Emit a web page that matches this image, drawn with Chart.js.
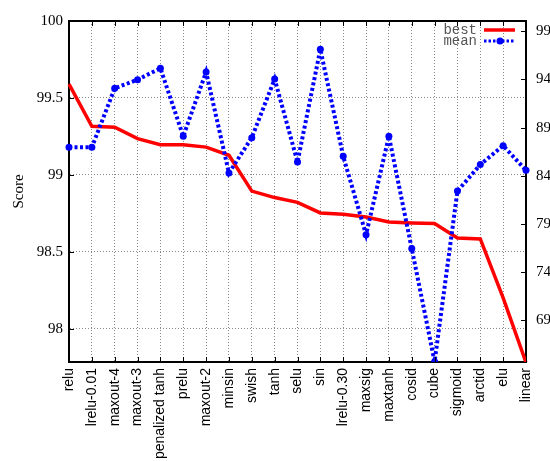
<!DOCTYPE html>
<html>
<head>
<meta charset="utf-8">
<script src="https://cdn.jsdelivr.net/npm/chart.js@4/dist/chart.umd.min.js"></script>
<style>
  html, body { margin: 0; padding: 0; background: #fff; }
  #wrap { width: 550px; height: 461px; position: relative; }
</style>
</head>
<body>
<div id="wrap"><canvas id="c"></canvas></div>
<script>
// Activation functions, sorted by best score
const activations = [
  'relu', 'lrelu-0.01', 'maxout-4', 'maxout-3', 'penalized tanh', 'prelu',
  'maxout-2', 'minsin', 'swish', 'tanh', 'selu', 'sin', 'lrelu-0.30',
  'maxsig', 'maxtanh', 'cosid', 'cube', 'sigmoid', 'arctid', 'elu', 'linear'
];

// Best score per activation (left axis)
const bestScores = [
  99.59, 99.315, 99.31, 99.235, 99.196, 99.195, 99.18, 99.127, 98.894, 98.852,
  98.821, 98.752, 98.743, 98.726, 98.693, 98.687, 98.683, 98.589, 98.583, 98.2, 97.78
];

// Mean score per activation (right axis)
const meanScores = [
  86.96, 86.96, 93.08, 93.98, 95.16, 88.1, 94.78, 84.29, 87.96, 94.05,
  85.43, 97.13, 86.02, 77.89, 88.1, 76.44, 64.7, 82.42, 85.16, 87.13, 84.57
];

// Tick values for both value axes
const leftTicks = [98, 98.5, 99, 99.5, 100];
const rightTicks = [69, 74, 79, 84, 89, 94, 99];

const serif = '"Liberation Serif", "DejaVu Serif", serif';
const sans = '"Liberation Sans", Arial, sans-serif';
const mono = '"Liberation Mono", "DejaVu Sans Mono", monospace';

// Frame: top border, inward tick marks and the key in the upper right
const framePlugin = {
  id: 'frame',
  afterDraw(chart) {
    const { ctx, chartArea: a, scales } = chart;
    ctx.save();
    ctx.strokeStyle = '#000';
    ctx.lineWidth = 2;
    ctx.beginPath();
    ctx.moveTo(a.left - 1, a.top);
    ctx.lineTo(a.right + 1, a.top);
    ctx.stroke();

    ctx.lineWidth = 1;
    ctx.beginPath();
    activations.forEach((_, i) => {
      const x = Math.round(scales.x.getPixelForValue(i)) + 0.5;
      ctx.moveTo(x, a.top); ctx.lineTo(x, a.top + 5);
      ctx.moveTo(x, a.bottom); ctx.lineTo(x, a.bottom - 5);
    });
    leftTicks.forEach(v => {
      const y = Math.round(scales.y.getPixelForValue(v)) + 0.5;
      ctx.moveTo(a.left, y); ctx.lineTo(a.left + 5, y);
    });
    rightTicks.forEach(v => {
      const y = Math.round(scales.y2.getPixelForValue(v)) + 0.5;
      ctx.moveTo(a.right, y); ctx.lineTo(a.right - 5, y);
    });
    ctx.stroke();

    // key
    ctx.font = '14px ' + mono;
    ctx.fillStyle = '#555';
    ctx.textAlign = 'right';
    ctx.textBaseline = 'middle';
    ctx.fillText('best', 477, 30);
    ctx.fillText('mean', 477, 41);

    ctx.strokeStyle = '#ff0000';
    ctx.lineWidth = 3.5;
    ctx.beginPath();
    ctx.moveTo(484, 30); ctx.lineTo(515, 30);
    ctx.stroke();

    ctx.strokeStyle = '#0000ff';
    ctx.lineWidth = 3;
    ctx.setLineDash([2.5, 2]);
    ctx.beginPath();
    ctx.moveTo(484, 41); ctx.lineTo(515, 41);
    ctx.stroke();
    ctx.setLineDash([]);
    ctx.fillStyle = '#0000ff';
    ctx.beginPath();
    ctx.arc(500, 41, 3.5, 0, Math.PI * 2);
    ctx.fill();
    ctx.restore();
  }
};

new Chart(document.getElementById('c'), {
  type: 'line',
  data: {
    labels: activations,
    datasets: [
      {
        label: 'best',
        data: bestScores,
        yAxisID: 'y',
        borderColor: '#ff0000',
        backgroundColor: '#ff0000',
        borderWidth: 3.5,
        pointRadius: 0,
        tension: 0,
        order: 2
      },
      {
        label: 'mean',
        data: meanScores,
        yAxisID: 'y2',
        borderColor: '#0000ff',
        backgroundColor: '#0000ff',
        borderWidth: 4,
        borderDash: [3, 2.5],
        pointRadius: 3.5,
        pointBorderWidth: 0,
        pointBackgroundColor: '#0000ff',
        tension: 0,
        order: 1
      }
    ]
  },
  options: {
    responsive: true,
    maintainAspectRatio: false,
    animation: false,
    devicePixelRatio: 1,
    layout: { padding: { top: 21, left: 0, right: 0, bottom: 0 } },
    plugins: {
      legend: { display: false },
      tooltip: { enabled: false }
    },
    scales: {
      x: {
        type: 'category',
        offset: false,
        grid: { color: '#888', lineWidth: 1, drawTicks: false },
        border: { display: true, color: '#000', width: 2, dash: [1, 2] },
        ticks: {
          autoSkip: false,
          minRotation: 90,
          maxRotation: 90,
          padding: 6,
          color: '#000',
          font: { family: sans, size: 14 }
        },
        afterFit(scale) { scale.height = 99; }
      },
      y: {
        position: 'left',
        min: 97.783,
        max: 100,
        afterBuildTicks(scale) { scale.ticks = leftTicks.map(v => ({ value: v })); },
        grid: { color: '#888', lineWidth: 1, drawTicks: false },
        border: { display: true, color: '#000', width: 2, dash: [1, 2] },
        ticks: {
          padding: 6,
          color: '#000',
          font: { family: serif, size: 15 },
          callback: v => String(v)
        },
        title: {
          display: true,
          text: 'Score',
          color: '#000',
          font: { family: serif, size: 15 },
          padding: { top: 10, bottom: 0 }
        },
        afterFit(scale) { scale.width = 69; }
      },
      y2: {
        position: 'right',
        min: 64.67,
        max: 100.07,
        afterBuildTicks(scale) { scale.ticks = rightTicks.map(v => ({ value: v })); },
        grid: { drawOnChartArea: false, drawTicks: false },
        border: { display: true, color: '#000', width: 2 },
        ticks: {
          padding: 10,
          color: '#000',
          font: { family: serif, size: 15 },
          callback: v => String(v)
        },
        afterFit(scale) { scale.width = 24; }
      }
    }
  },
  plugins: [framePlugin]
});
</script>
</body>
</html>
